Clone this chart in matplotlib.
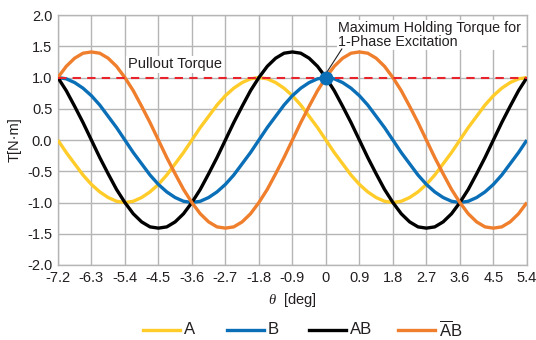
import numpy as np
import matplotlib
matplotlib.use("Agg")
import matplotlib.pyplot as plt
from matplotlib.lines import Line2D

plt.rcParams['font.family'] = ['Liberation Sans Narrow', 'Liberation Sans', 'DejaVu Sans']
plt.rcParams['mathtext.fontset'] = 'custom'
plt.rcParams['mathtext.rm'] = 'Liberation Sans'
plt.rcParams['mathtext.it'] = 'Liberation Serif:italic'

# rotor angle samples (deg)
theta = np.linspace(-7.2, 5.4, 57)

# torque for each excitation mode [N·m]
torque_A = [0.00, -0.20, -0.38, -0.56, -0.71, -0.83, -0.92, -0.98, -1.00,
            -0.98, -0.92, -0.83, -0.71, -0.56, -0.38, -0.20, 0.00,
            0.20, 0.38, 0.56, 0.71, 0.83, 0.92, 0.98, 1.00,
            0.98, 0.92, 0.83, 0.71, 0.56, 0.38, 0.20, 0.00,
            -0.20, -0.38, -0.56, -0.71, -0.83, -0.92, -0.98, -1.00,
            -0.98, -0.92, -0.83, -0.71, -0.56, -0.38, -0.20, 0.00,
            0.20, 0.38, 0.56, 0.71, 0.83, 0.92, 0.98, 1.00]
torque_B = [1.00, 0.98, 0.92, 0.83, 0.71, 0.56, 0.38, 0.20, 0.00,
            -0.20, -0.38, -0.56, -0.71, -0.83, -0.92, -0.98, -1.00,
            -0.98, -0.92, -0.83, -0.71, -0.56, -0.38, -0.20, 0.00,
            0.20, 0.38, 0.56, 0.71, 0.83, 0.92, 0.98, 1.00,
            0.98, 0.92, 0.83, 0.71, 0.56, 0.38, 0.20, 0.00,
            -0.20, -0.38, -0.56, -0.71, -0.83, -0.92, -0.98, -1.00,
            -0.98, -0.92, -0.83, -0.71, -0.56, -0.38, -0.20, 0.00]
torque_AB = [1.00, 0.79, 0.54, 0.28,
             0.00, -0.28, -0.54, -0.79, -1.00, -1.18, -1.31, -1.39,
             -1.41, -1.39, -1.31, -1.18, -1.00, -0.79, -0.54, -0.28,
             0.00, 0.28, 0.54, 0.79, 1.00, 1.18, 1.31, 1.39,
             1.41, 1.39, 1.31, 1.18, 1.00, 0.79, 0.54, 0.28,
             0.00, -0.28, -0.54, -0.79, -1.00, -1.18, -1.31, -1.39,
             -1.41, -1.39, -1.31, -1.18, -1.00, -0.79, -0.54, -0.28,
             0.00, 0.28, 0.54, 0.79, 1.00]
torque_nAB = [1.00, 1.18, 1.31, 1.39,
              1.41, 1.39, 1.31, 1.18, 1.00, 0.79, 0.54, 0.28,
              0.00, -0.28, -0.54, -0.79, -1.00, -1.18, -1.31, -1.39,
              -1.41, -1.39, -1.31, -1.18, -1.00, -0.79, -0.54, -0.28,
              0.00, 0.28, 0.54, 0.79, 1.00, 1.18, 1.31, 1.39,
              1.41, 1.39, 1.31, 1.18, 1.00, 0.79, 0.54, 0.28,
              0.00, -0.28, -0.54, -0.79, -1.00, -1.18, -1.31, -1.39,
              -1.41, -1.39, -1.31, -1.18, -1.00]

pullout_torque = 1.0
holding_point = (0.0, 1.0)

x_ticks = [-7.2, -6.3, -5.4, -4.5, -3.6, -2.7, -1.8, -0.9, 0, 0.9, 1.8, 2.7, 3.6, 4.5, 5.4]
x_tick_labels = ['-7.2', '-6.3', '-5.4', '-4.5', '-3.6', '-2.7', '-1.8', '-0.9', '0',
                 '0.9', '1.8', '2.7', '3.6', '4.5', '5.4']
y_ticks = [-2.0, -1.5, -1.0, -0.5, 0.0, 0.5, 1.0, 1.5, 2.0]
y_tick_labels = ['-2.0', '-1.5', '-1.0', '-0.5', '0.0', '0.5', '1.0', '1.5', '2.0']

series_labels = ['A', 'B', 'AB', r'$\overline{\mathrm{A}}\mathrm{B}$']
colors = ['#FFCC29', '#0A6FB7', '#000000', '#EF7F2D']
text_col = '#231F20'

fig = plt.figure(figsize=(5.36, 3.40), dpi=100)
ax = fig.add_axes([0.108, 0.2206, 0.875, 0.735])

grid_col = '#B5B5B5'
for s in ax.spines.values():
    s.set_color(grid_col)
    s.set_linewidth(1.0)
ax.set_xlim(-7.2, 5.4)
ax.set_ylim(-2.0, 2.0)
ax.set_xticks(x_ticks)
ax.set_xticklabels(x_tick_labels)
ax.set_yticks(y_ticks)
ax.set_yticklabels(y_tick_labels)
ax.tick_params(length=0, labelsize=10.5, pad=4, colors=text_col)
ax.grid(True, color=grid_col, linewidth=1.0)
ax.set_axisbelow(True)

for ys, c in zip([torque_A, torque_B, torque_AB, torque_nAB], colors):
    ax.plot(theta, ys, color=c, linewidth=2.4, solid_capstyle='butt', zorder=3)

ax.plot([x_ticks[0], x_ticks[-1]], [pullout_torque, pullout_torque],
        color='#E8232B', linewidth=1.5, dashes=(4, 3), zorder=4)
ax.plot([holding_point[0]], [holding_point[1]], 'o', color='#0A6FB7',
        markersize=9, zorder=7, clip_on=False)

ax.text(-5.32, 1.21, 'Pullout Torque', fontsize=10.5, ha='left', va='center',
        color=text_col, zorder=5,
        bbox=dict(facecolor='white', edgecolor='none', pad=1.0))

# callout for the holding-torque point
ax.annotate('', xy=(0.02, 1.08), xytext=(0.43, 1.46),
            arrowprops=dict(arrowstyle='-', color=text_col, lw=0.8,
                            shrinkA=0, shrinkB=0), zorder=6)
ax.text(0.32, 1.68, 'Maximum Holding Torque for\n1-Phase Excitation',
        fontsize=10.3, ha='left', va='center', linespacing=1.07,
        color=text_col, zorder=5,
        bbox=dict(facecolor='white', edgecolor='none', pad=0.5))

ax.set_ylabel('T[N·m]', fontsize=10.5, labelpad=4, color=text_col)
ax.set_xlabel(r'$\mathit{\theta}$  [deg]', fontsize=10.5, labelpad=5, color=text_col)

# legend row below the plot
W, H = 536.0, 340.0
leg_y = 1 - 329.5 / H
leg_lines = [(143, 180), (227, 264), (309, 346), (398, 435)]
for (x0, x1), c, lab in zip(leg_lines, colors, series_labels):
    fig.add_artist(Line2D([x0 / W, x1 / W], [leg_y, leg_y], color=c,
                          linewidth=2.4, transform=fig.transFigure))
    fig.text((x1 + 4) / W, leg_y, lab, fontsize=12, ha='left', va='center',
             color=text_col)

fig.savefig('out.png', dpi=100)
